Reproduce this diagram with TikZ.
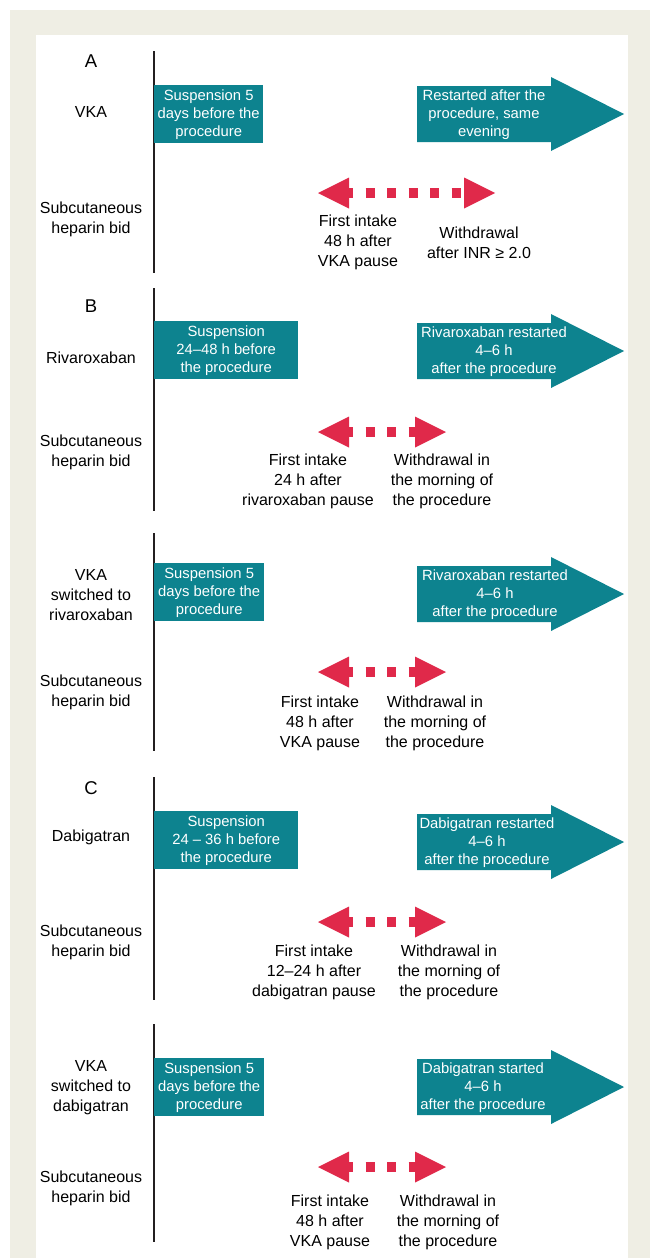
\documentclass[tikz,border=0pt]{standalone}
\usepackage{fontspec}
\setmainfont{Liberation Sans}
\usepackage{xcolor}
\usetikzlibrary{positioning}

\definecolor{panelbg}{HTML}{EFEEE4}
\definecolor{drugteal}{HTML}{0D838F}
\definecolor{hepred}{HTML}{E0294A}
\definecolor{axisgray}{HTML}{231F20}

\begin{document}
\begin{tikzpicture}[
  x=1pt,y=-1pt,
  font=\fontsize{16}{20}\selectfont,
  lbl/.style={align=center,inner sep=0pt},
  partlbl/.style={inner sep=0pt,font=\fontsize{18.5}{20}\selectfont},
  stopbox/.style={fill=drugteal,text=white,align=center,inner sep=0pt,anchor=north west,
    minimum height=58pt,font=\fontsize{14.8}{18}\selectfont},
  gotext/.style={text=white,align=center,inner sep=0pt,font=\fontsize{14.8}{18}\selectfont},
  timeline/.style={draw=axisgray,line width=1.6pt},
  hepdots/.style={draw=hepred,line width=10pt,dash pattern=on 9pt off 12.5pt,dash phase=5pt}
]
\useasboundingbox (0,0) rectangle (650,1258);
% frame
\fill[panelbg] (10,10) rectangle (650,1258);
\fill[white] (36,35) rectangle (628,1258);

% time axes
\foreach \ya/\yb in {51/273,288/511,533/751,777/1000,1024/1242}
  \draw[timeline] (154,\ya) -- (154,\yb);

% helpers
\newcommand{\goarrow}[4]{%% teal restart arrow: name, centre y, text x, text
  \fill[drugteal] (417,#2-28) -- (551,#2-28) -- (551,#2-37) -- (624,#2)
    -- (551,#2+37) -- (551,#2+28) -- (417,#2+28) -- cycle;
  \node[gotext] (#1) at (#3,#2+1) {#4};}
\newcommand{\hepbar}[3]{%% red heparin window: tag, y, right tip x
  \coordinate (#1l) at (318,#2);
  \coordinate (#1r) at (#3,#2);
  \fill[hepred] (#1l) -- ++(31,-15.5) -- ++(0,31) -- cycle;
  \fill[hepred] (#1r) -- ++(-31,-15.5) -- ++(0,31) -- cycle;
  \draw[hepdots] ([xshift=31pt]#1l) -- ([xshift=-31pt]#1r);}

% A
\node[partlbl] (partA) at (91,61) {A};
\node[lbl] (vkaA) at (91,112) {VKA};
\node[lbl] (hepA) at (91,219) {Subcutaneous\\heparin bid};
\node[stopbox,minimum width=109pt] (susA) at (154,85) {Suspension 5\\days before the\\procedure};
\goarrow{resA}{114}{484}{Restarted after the\\procedure, same\\evening}
\hepbar{barA}{193}{495}
\node[lbl] (firstA) at (358,242) {First intake\\48 h after\\VKA pause};
\node[lbl] (stopA) at (479,243) {Withdrawal\\after INR ≥ 2.0};

% B
\node[partlbl] (partB) at (91,306) {B};
\node[lbl] (rivB) at (91,358) {Rivaroxaban};
\node[lbl] (hepB) at (91,452) {Subcutaneous\\heparin bid};
\node[stopbox,minimum width=144pt] (susB) at (154,321) {Suspension\\24–48 h before\\the procedure};
\goarrow{resB}{351}{494}{Rivaroxaban restarted\\4–6 h\\after the procedure}
\hepbar{barB}{432}{446}
\node[lbl] (firstB) at (308,481) {First intake\\24 h after\\rivaroxaban pause};
\node[lbl] (stopB) at (442,481) {Withdrawal in\\the morning of\\the procedure};

% VKA -> rivaroxaban
\node[lbl] (vkaR) at (91,595) {VKA\\switched to\\rivaroxaban};
\node[lbl] (hepR) at (91,692) {Subcutaneous\\heparin bid};
\node[stopbox,minimum width=110pt] (susR) at (154,563) {Suspension 5\\days before the\\procedure};
\goarrow{resR}{594}{495}{Rivaroxaban restarted\\4–6 h\\after the procedure}
\hepbar{barR}{672}{446}
\node[lbl] (firstR) at (320,723) {First intake\\48 h after\\VKA pause};
\node[lbl] (stopR) at (435,723) {Withdrawal in\\the morning of\\the procedure};

% C
\node[partlbl] (partC) at (91,788) {C};
\node[lbl] (dabC) at (91,837) {Dabigatran};
\node[lbl] (hepC) at (91,942) {Subcutaneous\\heparin bid};
\node[stopbox,minimum width=144pt] (susC) at (154,811) {Suspension\\24 – 36 h before\\the procedure};
\goarrow{resC}{842}{487}{Dabigatran restarted\\4–6 h\\after the procedure}
\hepbar{barC}{922}{446}
\node[lbl] (firstC) at (314,972) {First intake\\12–24 h after\\dabigatran pause};
\node[lbl] (stopC) at (449,972) {Withdrawal in\\the morning of\\the procedure};

% VKA -> dabigatran
\node[lbl] (vkaD) at (91,1088) {VKA\\switched to\\dabigatran};
\node[lbl] (hepD) at (91,1188) {Subcutaneous\\heparin bid};
\node[stopbox,minimum width=110pt] (susD) at (154,1058) {Suspension 5\\days before the\\procedure};
\goarrow{resD}{1087}{483}{Dabigatran started\\4–6 h\\after the procedure}
\hepbar{barD}{1167}{446}
\node[lbl] (firstD) at (330,1222) {First intake\\48 h after\\VKA pause};
\node[lbl] (stopD) at (448,1222) {Withdrawal in\\the morning of\\the procedure};
\end{tikzpicture}
\end{document}
